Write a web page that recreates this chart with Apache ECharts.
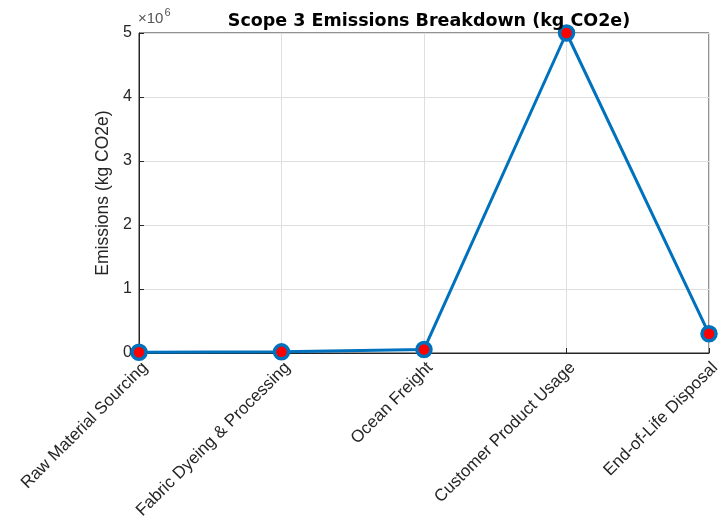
<!DOCTYPE html>
<html>
<head>
<meta charset="utf-8">
<script src="https://cdn.jsdelivr.net/npm/echarts@6/dist/echarts.min.js"></script>
<style>
  html, body { margin: 0; padding: 0; background: #fff; }
  #chart { width: 719px; height: 520px; }
</style>
</head>
<body>
<div id="chart"></div>
<script>
// Scope 3 emission sources and their totals (kg CO2e)
const categories = [
  'Raw Material Sourcing',
  'Fabric Dyeing & Processing',
  'Ocean Freight',
  'Customer Product Usage',
  'End-of-Life Disposal'
];
const emissions = [12000, 18000, 55000, 5000000, 300000];
const yTicks = [0, 1, 2, 3, 4, 5]; // in units of 10^6
const yScale = 1e6;

const font = 'Liberation Sans, Arial, sans-serif';
const axisColor = '#262626';

const chart = echarts.init(document.getElementById('chart'), null, { renderer: 'canvas' });

chart.setOption({
  animation: false,
  backgroundColor: '#ffffff',
  title: {
    text: 'Scope 3 Emissions Breakdown (kg CO2e)',
    left: 424,
    textAlign: 'center',
    top: 7,
    textStyle: { fontFamily: 'DejaVu Sans, sans-serif', fontSize: 17.5, fontWeight: 'bold', color: '#000' }
  },
  graphic: [{
    type: 'text',
    left: 138,
    top: 7,
    style: {
      text: '{a|×10}{b|6}',
      rich: {
        a: { fontFamily: font, fontSize: 15, fill: '#555', verticalAlign: 'bottom' },
        b: { fontFamily: font, fontSize: 11, fill: '#555', verticalAlign: 'top', padding: [0, 0, 8, 1] }
      }
    }
  }],
  grid: {
    left: 139, right: 10, top: 33, bottom: 167,
    outerBoundsMode: 'none',
    show: true, borderColor: axisColor, borderWidth: 1, backgroundColor: '#fff'
  },
  xAxis: {
    type: 'category',
    data: categories,
    boundaryGap: false,
    axisLine: { lineStyle: { color: axisColor } },
    axisTick: { inside: true, length: 5, lineStyle: { color: axisColor } },
    splitLine: { show: true, lineStyle: { color: '#dfdfdf', width: 1 } },
    axisLabel: {
      rotate: 45, interval: 0, margin: 6,
      verticalAlign: 'top',
      hideOverlap: false,
      fontFamily: font, fontSize: 17, color: axisColor
    }
  },
  yAxis: {
    type: 'value',
    min: yTicks[0] * yScale,
    max: yTicks[yTicks.length - 1] * yScale,
    interval: yScale,
    name: 'Emissions (kg CO2e)',
    nameLocation: 'middle',
    nameGap: 27,
    nameRotate: 90,
    nameTextStyle: { fontFamily: font, fontSize: 17.5, color: axisColor },
    axisLine: { show: true, lineStyle: { color: axisColor } },
    axisTick: { show: true, inside: true, length: 5, lineStyle: { color: axisColor } },
    splitLine: { show: true, lineStyle: { color: '#dfdfdf', width: 1 } },
    axisLabel: {
      margin: 7,
      fontFamily: font, fontSize: 16, color: axisColor,
      formatter: v => String(v / yScale)
    }
  },
  series: [{
    type: 'line',
    data: emissions,
    clip: false,
    lineStyle: { color: '#0072BD', width: 3 },
    symbol: 'circle',
    symbolSize: 14,
    itemStyle: { color: '#ff0000', borderColor: '#0072BD', borderWidth: 3.5 },
    z: 5
  }]
});
</script>
</body>
</html>
